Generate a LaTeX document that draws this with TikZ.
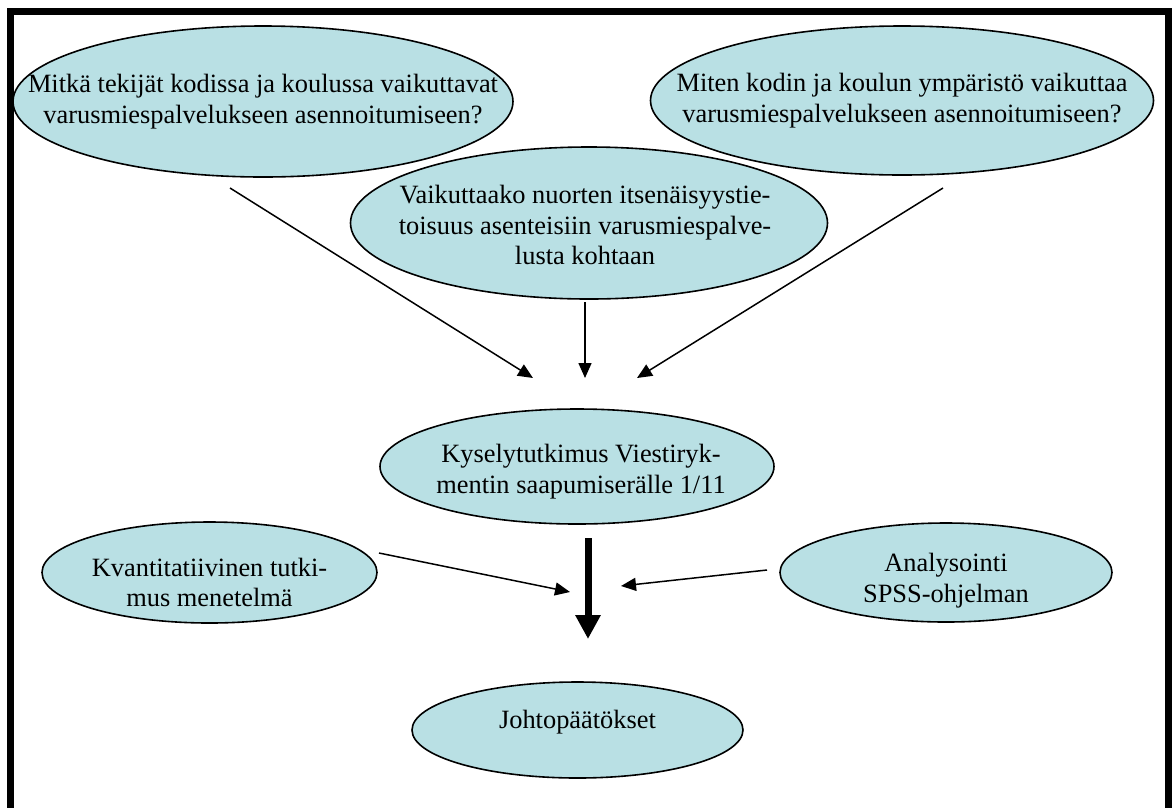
\documentclass[tikz,border=0pt]{standalone}
\usepackage{fontspec}
\setmainfont{Liberation Serif}
\usetikzlibrary{shapes.geometric,arrows.meta}
\definecolor{ellfill}{RGB}{185,224,228}
\tikzset{
  ell/.style={ellipse, draw=black, line width=1.6pt, fill=ellfill, inner sep=0pt},
  txt/.style={align=center, inner sep=0pt, font=\fontsize{26.4}{30.4}\selectfont},
  thinarrow/.style={line width=1.5pt, -{Triangle[length=15pt,width=13pt]}},
  thickarrow/.style={line width=7pt, -{Triangle[length=24pt,width=24pt]}},
  frameline/.style={line width=7pt, line join=miter}
}
\begin{document}
\begin{tikzpicture}[x=1pt,y=-1pt]
\useasboundingbox (0,0) rectangle (1175,807);
% frame (open at the bottom edge of the picture)
\draw[frameline] (10,830) -- (10,11) -- (1168.5,11) -- (1168.5,830);

% ellipses
\node[ell, minimum width=500pt, minimum height=151pt,
  label={[txt, yshift=0pt]center:{Mitkä tekijät kodissa ja koulussa vaikuttavat\\varusmiespalvelukseen asennoitumiseen?}}] (q1) at (263,101.5) {};
\node[ell, minimum width=503pt, minimum height=149pt,
  label={[txt, yshift=0pt]center:{Miten kodin ja koulun ympäristö vaikuttaa\\varusmiespalvelukseen asennoitumiseen?}}] (q2) at (902,100.5) {};
\node[ell, minimum width=477pt, minimum height=152pt,
  label={[txt, xshift=-4pt, yshift=-2pt]center:{Vaikuttaako nuorten itsenäisyystie-\\toisuus asenteisiin varusmiespalve-\\lusta kohtaan}}] (q3) at (589,223) {};
\node[ell, minimum width=394pt, minimum height=115pt,
  label={[txt, xshift=4pt, yshift=-5pt]center:{Kyselytutkimus Viestiryk-\\mentin saapumiserälle 1/11}}] (ky) at (577,466.5) {};
\node[ell, minimum width=335pt, minimum height=101pt,
  label={[txt, yshift=-10pt]center:{Kvantitatiivinen tutki-\\mus menetelmä}}] (kv) at (209.5,572.5) {};
\node[ell, minimum width=332pt, minimum height=99pt,
  label={[txt, yshift=-8pt]center:{Analysointi\\SPSS-ohjelman}}] (an) at (946,572.5) {};
\node[ell, minimum width=331pt, minimum height=96pt,
  label={[txt, yshift=8pt]center:{Johtopäätökset}}] (jo) at (577.5,730) {};

% arrow end points
\coordinate (s1) at (230,188);
\coordinate (e1) at (533,378);
\coordinate (s2) at (585,302);
\coordinate (e2) at (585,378);
\coordinate (s3) at (943,188);
\coordinate (e3) at (637,378);
\coordinate (s4) at (588,538);
\coordinate (e4) at (588,639);
\coordinate (s5) at (379,553);
\coordinate (e5) at (570,592);
\coordinate (s6) at (767,570);
\coordinate (e6) at (621,586);

\draw[thinarrow] (s1) -- (e1);
\draw[thinarrow] (s2) -- (e2);
\draw[thinarrow] (s3) -- (e3);
\draw[thickarrow] (s4) -- (e4);
\draw[thinarrow] (s5) -- (e5);
\draw[thinarrow] (s6) -- (e6);
\end{tikzpicture}
\end{document}
